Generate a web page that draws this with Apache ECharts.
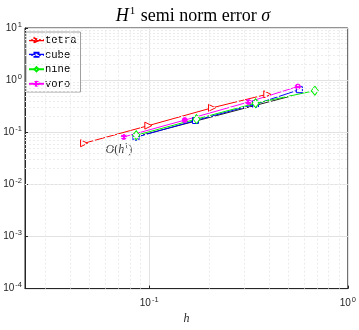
<!DOCTYPE html>
<html>
<head>
<meta charset="utf-8">
<script src="https://cdn.jsdelivr.net/npm/echarts@6/dist/echarts.min.js"></script>
<style>
html,body{margin:0;padding:0;background:#fff;}
#chart{width:359px;height:330px;}
</style>
</head>
<body>
<div id="chart"></div>
<script>
// 数据 (h, error)
const hTetra = [0.047, 0.099, 0.207, 0.393];
const eTetra = [0.0614, 0.134, 0.294, 0.535];
const hCube = [0.0858, 0.171, 0.343, 0.570];
const eCube = [0.0803, 0.168, 0.345, 0.655];
const hNine = [0.086, 0.173, 0.343, 0.682];
const eNine = [0.0875, 0.179, 0.360, 0.627];
const hVoro = [0.0745, 0.151, 0.316, 0.560];
const eVoro = [0.0814, 0.171, 0.380, 0.753];
const hRef = [0.0858, 0.52];
const eRef = [0.082, 0.497];
const legendNames = ['tetra', 'cube', 'nine', 'voro'];
// 次网格线位置
const xMinor = [0.03, 0.04, 0.05, 0.06, 0.07, 0.08, 0.09, 0.2, 0.3, 0.4, 0.5, 0.6, 0.7, 0.8, 0.9];
const yMinor = [];
[1e-4, 1e-3, 1e-2, 1e-1, 1].forEach(d => { for (let k = 2; k <= 9; k++) yMinor.push(+(d * k).toPrecision(3)); });

const pairs = (xs, ys) => xs.map((x, i) => [x, ys[i]]);
const supLabel = v => {
  const p = Math.log10(v);
  if (Math.abs(p - Math.round(p)) > 1e-6) return '';
  return '10{sup|' + Math.round(p) + '}';
};
const axisRich = { sup: { fontSize: 7.5, verticalAlign: 'top', padding: [0, 0, 7, 1], color: '#262626', fontFamily: 'Liberation Sans' } };

const mkSeries = (name, data, color, symbol, opt) => Object.assign({
  name: name,
  type: 'line',
  data: data,
  symbol: symbol,
  symbolSize: 7,
  showAllSymbol: true,
  lineStyle: { color: color, width: 1 },
  itemStyle: { color: '#fff', borderColor: color, borderWidth: 1 },
  z: 3,
}, opt || {});

const serif = 'Liberation Serif';
const chart = echarts.init(document.getElementById('chart'));
chart.setOption({
  animation: false,
  title: {
    text: '{i|H}{s|1}{r| semi norm error }{i|σ}',
    left: 188,
    textAlign: 'center',
    top: 1,
    textStyle: {
      fontWeight: 'normal',
      rich: {
        i: { fontFamily: serif, fontStyle: 'italic', fontWeight: 'normal', fontSize: 18, color: '#000' },
        s: { fontFamily: serif, fontWeight: 'normal', fontSize: 11, verticalAlign: 'top', padding: [0, 1, 10, 1], color: '#000' },
        r: { fontFamily: serif, fontWeight: 'normal', fontSize: 18, color: '#000' },
      },
    },
  },
  legend: {
    data: legendNames,
    orient: 'vertical',
    left: 26,
    top: 32,
    itemWidth: 15,
    itemHeight: 5,
    itemGap: 2,
    symbolRotate: 'inherit',
    padding: [2, 4, 2, 2],
    backgroundColor: '#fff',
    borderColor: '#a0a0a0',
    borderWidth: 1,
    borderRadius: 0,
    textStyle: { fontFamily: 'Liberation Mono', fontSize: 10.5, color: '#000', padding: [0, 0, 0, -4], lineHeight: 12.5 },
  },
  grid: {
    left: 25, right: 7, top: 28, bottom: 33,
    show: true, borderColor: '#262626', borderWidth: 1,
  },
  xAxis: {
    type: 'log',
    logBase: 10,
    min: 0.0237,
    max: 1,
    name: 'h',
    nameLocation: 'middle',
    nameGap: 20,
    nameTextStyle: { fontFamily: serif, fontStyle: 'italic', fontSize: 12, color: '#262626' },
    axisLine: { lineStyle: { color: '#262626', width: 1 } },
    axisTick: { inside: true, length: 3, lineStyle: { color: '#262626' } },
    axisLabel: { formatter: supLabel, rich: axisRich, fontFamily: 'Liberation Sans', fontSize: 10, color: '#262626', margin: 7, showMinLabel: false },
    splitLine: { show: true, lineStyle: { color: '#e2e2e2', width: 1 } },
  },
  yAxis: {
    type: 'log',
    logBase: 10,
    min: 1e-4,
    max: 10,
    axisLine: { lineStyle: { color: '#262626', width: 1 } },
    axisTick: { inside: true, length: 3, lineStyle: { color: '#262626' } },
    axisLabel: { formatter: supLabel, rich: axisRich, fontFamily: 'Liberation Sans', fontSize: 10, color: '#262626', margin: 3 },
    splitLine: { show: true, lineStyle: { color: '#e2e2e2', width: 1 } },
  },
  series: [
    {
      name: 'grid-minor',
      type: 'line',
      data: [],
      silent: true,
      markLine: {
        silent: true,
        symbol: 'none',
        label: { show: false },
        lineStyle: { color: '#ececec', type: [2, 2], width: 1 },
        data: xMinor.map(v => ({ xAxis: v })).concat(yMinor.map(v => ({ yAxis: v }))),
      },
      z: 1,
    },
    {
      name: 'ref',
      type: 'line',
      data: pairs(hRef, eRef),
      symbol: 'none',
      lineStyle: { color: '#222', width: 1 },
      z: 2,
    },
    {
      name: 'ref-label',
      type: 'scatter',
      data: [[0.0703, 0.0455]],
      symbolSize: 0,
      silent: true,
      z: 4,
      label: {
        show: true,
        position: 'inside',
        formatter: '{i|O}{r|(}{i|h}{s|1}{r|)}',
        rich: {
          i: { fontFamily: serif, fontStyle: 'italic', fontSize: 12, color: '#000' },
          r: { fontFamily: serif, fontSize: 12, color: '#000' },
          s: { fontFamily: serif, fontSize: 8, verticalAlign: 'top', padding: [0, 0, 6, 0], color: '#000' },
        },
      },
    },
    mkSeries('tetra', pairs(hTetra, eTetra), '#ff0000', 'triangle', { symbolRotate: -90 }),
    mkSeries('cube', pairs(hCube, eCube), '#0000ff', 'rect', { symbolSize: 6 }),
    mkSeries('nine', pairs(hNine, eNine), '#00ee00', 'diamond', { symbolSize: [7, 9] }),
    mkSeries('voro', pairs(hVoro, eVoro), '#ff00ff', 'circle', { symbolSize: 5, itemStyle: { color: '#ff00ff', borderColor: '#ff00ff', borderWidth: 1 } }),
  ],
});
</script>
</body>
</html>
